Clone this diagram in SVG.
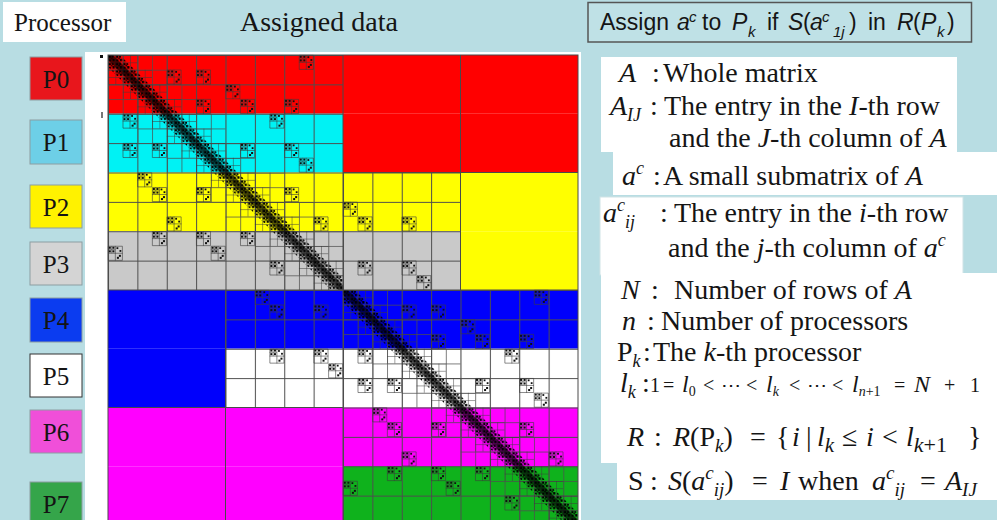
<svg xmlns="http://www.w3.org/2000/svg" xmlns:xlink="http://www.w3.org/1999/xlink" width="997" height="520" viewBox="0 0 997 520">
<style>
.ser{font-family:"Liberation Serif","DejaVu Serif",serif;fill:#151515}
.san{font-family:"Liberation Sans",Arial,sans-serif;fill:#151515}
.i{font-style:italic}
.pbox{stroke:#8c9ea2;stroke-width:1}
.plab{font-family:"Liberation Serif","DejaVu Serif",serif;font-size:25px;fill:#141414;text-anchor:middle}
.ln{fill:none;stroke:#4a4a4a;stroke-width:1}
</style>
<defs>
<pattern id="g2" patternUnits="userSpaceOnUse" x="0" y="0" width="29.375" height="29.375"><path d="M0 0.5H29.375M0.5 0V29.375" stroke="#4d4d4d" stroke-width="1" fill="none"/></pattern>
<pattern id="g4" patternUnits="userSpaceOnUse" x="0" y="0" width="14.6875" height="14.6875"><path d="M0 0.4H14.6875M0.4 0V14.6875" stroke="#4d4d4d" stroke-width="0.8" fill="none"/></pattern>
<pattern id="g8" patternUnits="userSpaceOnUse" x="0" y="0" width="7.34375" height="7.34375"><path d="M0 0.3H7.34375M0.3 0V7.34375" stroke="#3a3a3a" stroke-width="0.6" fill="none"/></pattern>
<pattern id="dg" patternUnits="userSpaceOnUse" x="0" y="0" width="7.34375" height="7.34375"><g fill="#000"><rect x="0.6" y="0.6" width="2.4" height="2.4"/><rect x="3.8" y="0.8" width="1.8" height="1.8"/><rect x="4.4" y="3.8" width="2.4" height="2.4"/><rect x="1" y="4.3" width="2" height="2"/><rect x="3" y="2.7" width="1.4" height="1.4"/></g></pattern>
<g id="k">
<path d="M0.3 0.3h14.1v14.1H0.3zM7.34 0v14.69M0 7.34h14.69" fill="none" stroke="#3c3c3c" stroke-width="0.6"/>
<path d="M0 3.67h7.34M3.67 0v7.34" fill="none" stroke="#3c3c3c" stroke-width="0.5"/>
<g fill="#111">
<rect x="0.8" y="0.8" width="2" height="2"/><rect x="4.4" y="0.8" width="2" height="2"/><rect x="0.8" y="4.4" width="2" height="2"/><rect x="4.4" y="4.4" width="2" height="2"/>
<rect x="8.5" y="1.3" width="1.8" height="1.8"/><rect x="11.5" y="4.1" width="1.8" height="1.8"/>
<rect x="10.9" y="8.9" width="2" height="2"/><rect x="8.9" y="10.9" width="2" height="2"/>
</g>
</g>
<g id="quad">
<rect x="0" y="0" width="235" height="235" fill="url(#g2)"/>
<path d="M0 0h58.75v29.375h29.375v29.375h29.375v29.375h29.375v29.375h29.375v29.375h29.375v29.375h29.375v58.75h-58.75v-29.375h-29.375v-29.375h-29.375v-29.375h-29.375v-29.375h-29.375v-29.375h-29.375v-29.375h-29.375v-58.75z" fill="url(#g4)"/>
<path d="M0 0h29.375v14.6875h14.6875v14.6875h14.6875v14.6875h14.6875v14.6875h14.6875v14.6875h14.6875v14.6875h14.6875v14.6875h14.6875v14.6875h14.6875v14.6875h14.6875v14.6875h14.6875v14.6875h14.6875v14.6875h14.6875v14.6875h14.6875v14.6875h14.6875v29.375h-29.375v-14.6875h-14.6875v-14.6875h-14.6875v-14.6875h-14.6875v-14.6875h-14.6875v-14.6875h-14.6875v-14.6875h-14.6875v-14.6875h-14.6875v-14.6875h-14.6875v-14.6875h-14.6875v-14.6875h-14.6875v-14.6875h-14.6875v-14.6875h-14.6875v-14.6875h-14.6875v-14.6875h-14.6875v-29.375z" fill="url(#g8)"/>
<polygon points="0,0 12,0 235,223 235,235 223,235 0,12" fill="url(#dg)"/>
<polygon points="0,0 5,0 235,230 235,235 230,235 0,5" fill="#000" fill-opacity="0.65"/>
<use href="#k" x="58.75" y="14.6875"/><use href="#k" x="14.6875" y="58.75"/>
<use href="#k" x="88.125" y="14.6875"/><use href="#k" x="14.6875" y="88.125"/>
<use href="#k" x="117.5" y="29.375"/><use href="#k" x="29.375" y="117.5"/>
<use href="#k" x="88.125" y="44.0625"/><use href="#k" x="44.0625" y="88.125"/>
<use href="#k" x="132.1875" y="88.125"/><use href="#k" x="88.125" y="132.1875"/>
<use href="#k" x="176.25" y="88.125"/><use href="#k" x="88.125" y="176.25"/>
<use href="#k" x="190.9375" y="102.8125"/><use href="#k" x="102.8125" y="190.9375"/>
<use href="#k" x="132.1875" y="44.0625"/><use href="#k" x="44.0625" y="132.1875"/>
<use href="#k" x="176.25" y="132.1875"/><use href="#k" x="132.1875" y="176.25"/>
<use href="#k" x="205.625" y="161.5625"/><use href="#k" x="161.5625" y="205.625"/>
<use href="#k" x="44.0625" y="176.25"/><use href="#k" x="176.25" y="44.0625"/>
<use href="#k" x="190.9375" y="0"/><use href="#k" x="0" y="190.9375"/>
<use href="#k" x="161.5625" y="58.75"/><use href="#k" x="58.75" y="161.5625"/>
</g>
</defs>
<rect width="997" height="520" fill="#b8dde3"/>
<g id="title-processor">
<rect x="3" y="2" width="123" height="40" fill="#ffffff"/>
<text class="ser" x="14" y="31" font-size="25">Processor</text>
</g>
<g id="title-assigned">
<text class="ser" x="240" y="31" font-size="28">Assigned data</text>
</g>
<g id="rule">
<rect x="588" y="2.5" width="383.5" height="39.5" fill="#bfe1e6" stroke="#555" stroke-width="1.5"/>
<text class="san" y="30" font-size="23"><tspan x="600">Assign</tspan><tspan x="677" class="i">a</tspan><tspan x="689" class="i" font-size="15" dy="-8">c</tspan><tspan x="702" dy="8">to</tspan><tspan x="732" class="i">P</tspan><tspan x="748" class="i" font-size="15" dy="7">k</tspan><tspan x="767" dy="-7">if</tspan><tspan x="788" class="i">S</tspan><tspan x="803">(</tspan><tspan x="810" class="i">a</tspan><tspan x="822" class="i" font-size="15" dy="-8">c</tspan><tspan x="833" class="i" font-size="15" dy="15">1j</tspan><tspan x="849" dy="-7">)</tspan><tspan x="868">in</tspan><tspan x="897" class="i">R</tspan><tspan x="913">(</tspan><tspan x="921" class="i">P</tspan><tspan x="937" class="i" font-size="15" dy="7">k</tspan><tspan x="947" dy="-7">)</tspan></text>
</g>
<g id="p0"><rect class="pbox" x="30" y="57" width="52" height="43" fill="#e8161c"/><text class="plab" x="56" y="88">P0</text></g>
<g id="p1"><rect class="pbox" x="30" y="120" width="52" height="44" fill="#6dcfe7"/><text class="plab" x="56" y="151">P1</text></g>
<g id="p2"><rect class="pbox" x="30" y="185" width="52" height="43" fill="#fff200"/><text class="plab" x="56" y="216">P2</text></g>
<g id="p3"><rect class="pbox" x="30" y="242" width="52" height="43" fill="#d4d4d4"/><text class="plab" x="56" y="273">P3</text></g>
<g id="p4"><rect class="pbox" x="30" y="298" width="52" height="44" fill="#0b3cf0"/><text class="plab" x="56" y="329">P4</text></g>
<g id="p5"><rect x="30" y="354" width="52" height="43" fill="#ffffff" stroke="#333" stroke-width="1"/><text class="plab" x="56" y="385">P5</text></g>
<g id="p6"><rect class="pbox" x="30" y="410" width="52" height="43" fill="#f04fd9"/><text class="plab" x="56" y="441">P6</text></g>
<g id="p7"><rect class="pbox" x="30" y="482" width="52" height="45" fill="#35a54a"/><text class="plab" x="56" y="513">P7</text></g>
<g id="matrix">
<rect x="85" y="52" width="496" height="470" fill="#ffffff"/>
<rect x="100" y="55" width="3" height="3" fill="#111"/>
<rect x="101" y="112" width="2" height="6" fill="#777"/>
<g transform="translate(108,55)">
<rect x="0" y="0" width="470" height="58.75" fill="#ff0000"/>
<rect x="0" y="58.75" width="235" height="58.75" fill="#00f2f4"/>
<rect x="235" y="58.75" width="235" height="58.75" fill="#ff0000"/>
<rect x="0" y="117.5" width="470" height="58.75" fill="#ffff00"/>
<rect x="0" y="176.25" width="352.5" height="58.75" fill="#c9c9c9"/>
<rect x="352.5" y="176.25" width="117.5" height="58.75" fill="#ffff00"/>
<rect x="0" y="235" width="470" height="58.75" fill="#0000fc"/>
<rect x="0" y="293.75" width="117.5" height="58.75" fill="#0000fc"/>
<rect x="117.5" y="293.75" width="352.5" height="58.75" fill="#ffffff"/>
<rect x="0" y="352.5" width="470" height="58.75" fill="#ff00ff"/>
<rect x="0" y="411.25" width="235" height="58.75" fill="#ff00ff"/>
<rect x="235" y="411.25" width="235" height="58.75" fill="#0fb21c"/>
<rect x="235" y="117.5" width="117.5" height="117.5" fill="url(#g2)"/>
<rect x="117.5" y="235" width="117.5" height="117.5" fill="url(#g2)"/>
<use href="#quad"/>
<use href="#quad" x="235" y="235"/>
<use href="#k" x="146.875" y="235"/><use href="#k" x="161.5625" y="249.6875"/><use href="#k" x="205.625" y="249.6875"/>
<use href="#k" x="161.5625" y="293.75"/><use href="#k" x="205.625" y="293.75"/><use href="#k" x="220.3125" y="308.4375"/>
<use href="#k" x="235" y="146.875"/><use href="#k" x="249.6875" y="161.5625"/><use href="#k" x="249.6875" y="205.625"/>
<use href="#k" x="293.75" y="161.5625"/><use href="#k" x="293.75" y="205.625"/><use href="#k" x="308.4375" y="220.3125"/>
<path class="ln" d="M235 0V470M0 235H470M352.5 0V235M235 117.5H470M117.5 235V470M0 352.5H235"/>
<rect class="ln" x="0" y="0" width="470" height="470"/>
</g>
</g>
<g id="legend">
<path d="M601 57H957V152H997V195H613V152H601Z" fill="#ffffff"/>
<rect x="600" y="197" width="363" height="78" fill="#ffffff" stroke="#cfe3e6" stroke-width="1"/>
<path d="M601 273H997V500H617V463H601Z" fill="#ffffff"/>
<g class="ser" font-size="28">
<text y="82"><tspan x="619" class="i">A</tspan><tspan x="652">:</tspan><tspan x="663">Whole matrix</tspan></text>
<text y="115"><tspan x="610" class="i">A</tspan><tspan class="i" font-size="18" dy="6">IJ</tspan><tspan x="650" dy="-6">:</tspan><tspan x="664">The entry in the </tspan><tspan class="i">I</tspan><tspan>-th row</tspan></text>
<text y="147"><tspan x="669">and the </tspan><tspan class="i">J</tspan><tspan>-th column of </tspan><tspan class="i">A</tspan></text>
<text y="185"><tspan x="622" class="i">a</tspan><tspan class="i" font-size="18" dy="-11">c</tspan><tspan x="653" dy="11">:</tspan><tspan x="663">A small submatrix of </tspan><tspan class="i">A</tspan></text>
<text y="222"><tspan x="603" class="i">a</tspan><tspan class="i" font-size="18" dy="-11">c</tspan><tspan class="i" font-size="18" dy="17">ij</tspan><tspan x="660" dy="-6">:</tspan><tspan x="674">The entry in the </tspan><tspan class="i">i</tspan><tspan>-th row</tspan></text>
<text y="257"><tspan x="668">and the </tspan><tspan class="i">j</tspan><tspan>-th column of </tspan><tspan class="i">a</tspan><tspan class="i" font-size="18" dy="-11">c</tspan></text>
<text y="299"><tspan x="621" class="i">N</tspan><tspan x="651">:</tspan><tspan x="674">Number of rows of </tspan><tspan class="i">A</tspan></text>
<text y="330"><tspan x="622" class="i">n</tspan><tspan x="647">:</tspan><tspan x="661">Number of processors</tspan></text>
<text y="361"><tspan x="617">P</tspan><tspan class="i" font-size="18" dy="6">k</tspan><tspan x="643" dy="-6">:</tspan><tspan x="653">The </tspan><tspan class="i">k</tspan><tspan>-th processor</tspan></text>
<text y="392"><tspan x="620" class="i">l</tspan><tspan class="i" font-size="18" dy="6">k</tspan><tspan x="642" dy="-6">:</tspan></text>
<text y="392" font-size="20"><tspan x="650">1</tspan><tspan x="663">=</tspan><tspan x="682" class="i" font-size="24">l</tspan><tspan font-size="14" dy="4">0</tspan><tspan x="703" dy="-4">&lt;</tspan><tspan x="721">⋯</tspan><tspan x="746">&lt;</tspan><tspan x="766" class="i" font-size="24">l</tspan><tspan class="i" font-size="14" dy="4">k</tspan><tspan x="789" dy="-4">&lt;</tspan><tspan x="807">⋯</tspan><tspan x="832">&lt;</tspan><tspan x="852" class="i" font-size="24">l</tspan><tspan class="i" font-size="14" dy="4">n</tspan><tspan font-size="14">+1</tspan><tspan x="894" dy="-4">=</tspan><tspan x="914" class="i" font-size="24">N</tspan><tspan x="944">+</tspan><tspan x="970">1</tspan></text>
<text y="446"><tspan x="627" class="i">R</tspan><tspan x="654">:</tspan></text>
<text y="446"><tspan x="673" class="i">R</tspan><tspan>(P</tspan><tspan class="i" font-size="19" dy="6">k</tspan><tspan dy="-6">)</tspan><tspan x="750">=</tspan><tspan x="776">{</tspan><tspan x="792" class="i">i</tspan><tspan x="806">|</tspan><tspan x="817" class="i">l</tspan><tspan class="i" font-size="21" dy="6">k</tspan><tspan x="842" dy="-6">≤</tspan><tspan x="866" class="i">i</tspan><tspan x="882">&lt;</tspan><tspan x="906" class="i">l</tspan><tspan class="i" font-size="22" dy="6">k</tspan><tspan font-size="22">+1</tspan><tspan x="968" dy="-6">}</tspan></text>
<text y="490"><tspan x="628">S</tspan><tspan x="650">:</tspan></text>
<text y="490"><tspan x="668" class="i">S</tspan><tspan>(</tspan><tspan class="i">a</tspan><tspan class="i" font-size="19" dy="-11">c</tspan><tspan class="i" font-size="19" dy="17">ij</tspan><tspan dy="-6">)</tspan><tspan x="752">=</tspan><tspan x="780" class="i">I</tspan><tspan x="798">when</tspan><tspan x="872" class="i">a</tspan><tspan class="i" font-size="19" dy="-11">c</tspan><tspan class="i" font-size="19" dy="17">ij</tspan><tspan x="920" dy="-6">=</tspan><tspan x="945" class="i">A</tspan><tspan class="i" font-size="19" dy="6">IJ</tspan></text>
</g>
</g>
</svg>
